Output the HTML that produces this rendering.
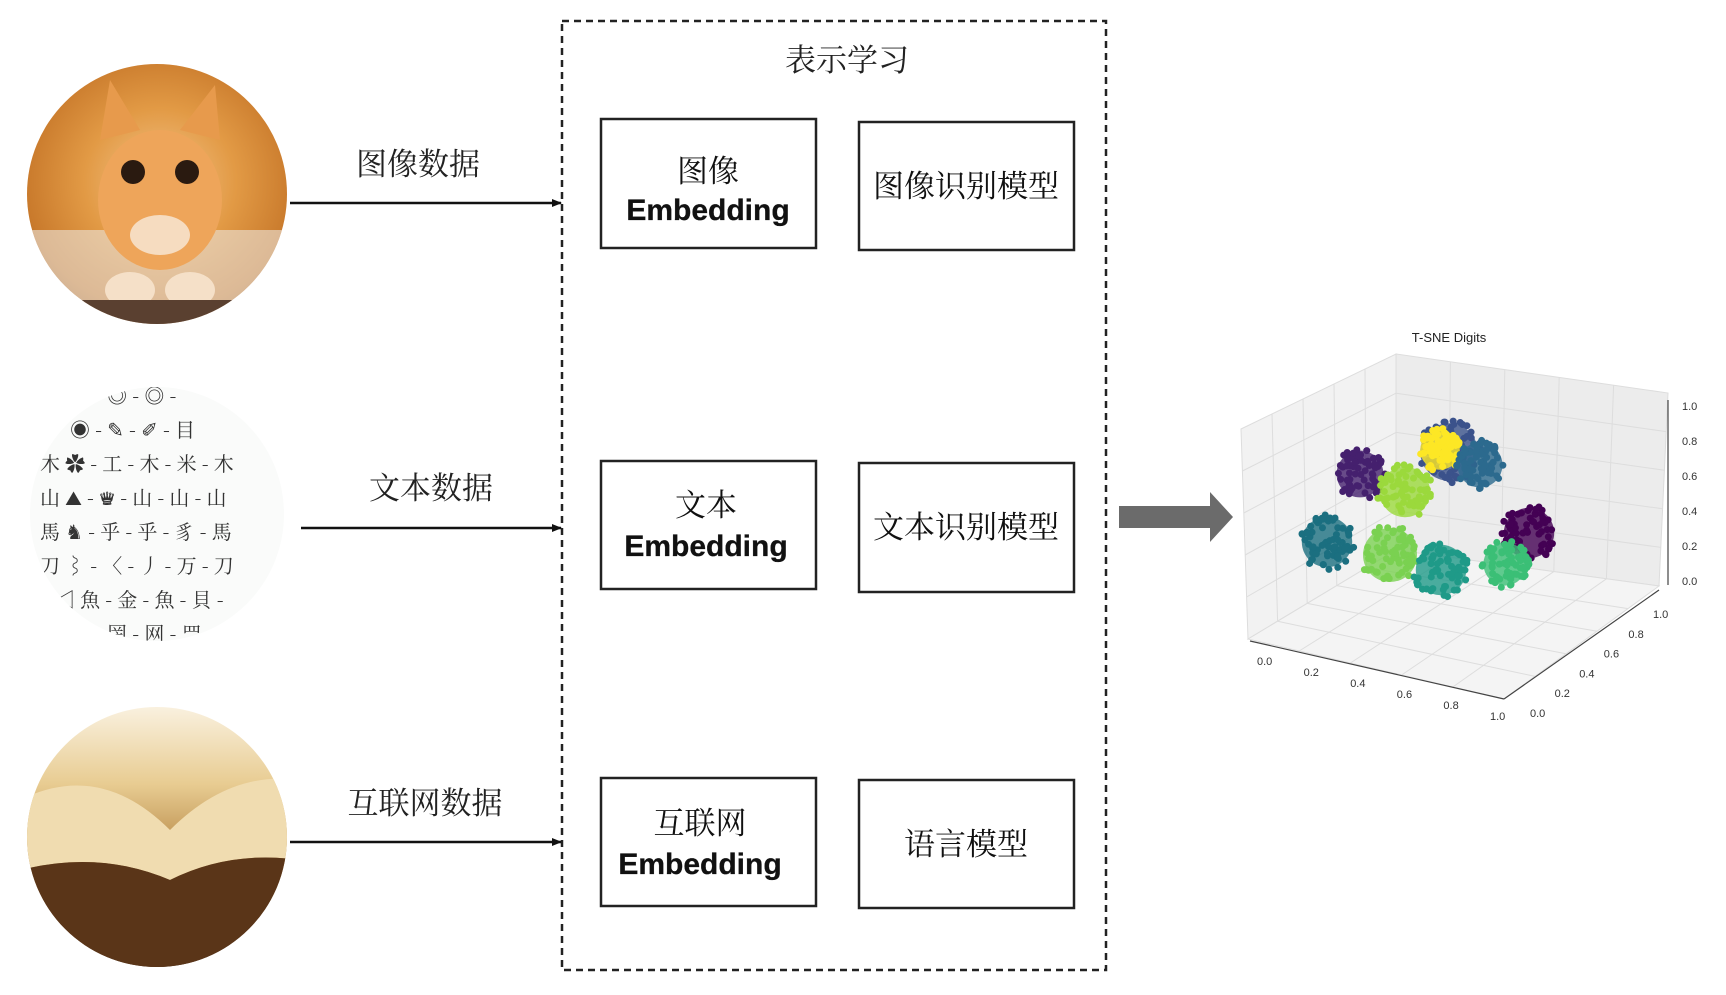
<!DOCTYPE html>
<html><head><meta charset="utf-8"><style>
html,body{margin:0;padding:0;background:#fff;}
svg text{font-family:"Liberation Sans","Noto Sans CJK SC",sans-serif;}
.cn{font-family:"Noto Serif CJK SC","Noto Sans CJK SC",serif !important;}
</style></head><body>
<svg id="s" width="1726" height="990" viewBox="0 0 1726 990" xmlns="http://www.w3.org/2000/svg">
<defs>
<radialGradient id="cat" cx="0.5" cy="0.45" r="0.6">
<stop offset="0" stop-color="#f3c48a"/><stop offset="0.45" stop-color="#e29a45"/><stop offset="0.8" stop-color="#c97a2c"/><stop offset="1" stop-color="#9a5a20"/></radialGradient>
<linearGradient id="book" x1="0" y1="0" x2="0" y2="1">
<stop offset="0" stop-color="#fbf4e6"/><stop offset="0.3" stop-color="#e8cc92"/><stop offset="0.55" stop-color="#b88a48"/><stop offset="0.75" stop-color="#6e4420"/><stop offset="1" stop-color="#3a2210"/></linearGradient>
<clipPath id="c1"><circle cx="157" cy="194" r="130"/></clipPath>
<clipPath id="c2"><circle cx="157" cy="514" r="127"/></clipPath>
<clipPath id="c3"><circle cx="157" cy="837" r="130"/></clipPath>
<marker id="ah" markerWidth="10" markerHeight="8" refX="9" refY="4" orient="auto" markerUnits="userSpaceOnUse"><path d="M0,0 L10,4 L0,8 z" fill="#111"/></marker>
</defs>

<!-- cat -->
<g clip-path="url(#c1)">
<rect x="20" y="60" width="280" height="270" fill="url(#cat)"/>
<rect x="20" y="230" width="280" height="100" fill="#e9e4de" opacity="0.6"/>
<ellipse cx="160" cy="200" rx="62" ry="70" fill="#eea55a"/>
<polygon points="100,140 110,80 140,130" fill="#e79a4c"/>
<polygon points="220,140 215,85 180,130" fill="#e79a4c"/>
<circle cx="133" cy="172" r="12" fill="#2a1a10"/><circle cx="187" cy="172" r="12" fill="#2a1a10"/>
<ellipse cx="160" cy="235" rx="30" ry="20" fill="#f6dcc0"/>
<ellipse cx="130" cy="290" rx="25" ry="18" fill="#f5e0c8"/><ellipse cx="190" cy="290" rx="25" ry="18" fill="#f5e0c8"/>
<rect x="60" y="300" width="200" height="40" fill="#5a4030"/>
</g>

<!-- chars -->
<g clip-path="url(#c2)">
<rect x="20" y="380" width="280" height="280" fill="#fafbfa"/>
<g font-size="20" fill="#333" class="cn">
<text x="70" y="403" class="cn">〰 - ◎ - ◎ -</text>
<text x="70" y="437" class="cn">◉ - ✎ - ✐ - 目</text>
<text x="40" y="471" class="cn">木 ✿ - 工 - 木 - 米 - 木</text>
<text x="40" y="505" class="cn">山 ⛰ - ♛ - 山 - 山 - 山</text>
<text x="40" y="539" class="cn">馬 ♞ - 乎 - 乎 - 豸 - 馬</text>
<text x="40" y="573" class="cn">刀 ⌇ - 〈 - 丿 - 万 - 刀</text>
<text x="55" y="607" class="cn">◁ 魚 - 金 - 魚 - 貝 -</text>
<text x="70" y="641" class="cn">囲 - 罔 - 网 - 罒</text>
</g>
</g>

<!-- book -->
<g clip-path="url(#c3)">
<rect x="20" y="700" width="280" height="280" fill="url(#book)"/>
<path d="M20,800 Q100,760 170,830 Q230,770 300,780 L300,860 Q230,850 170,880 Q100,850 20,870 z" fill="#f0dcb0"/>
<path d="M20,870 Q100,850 170,880 Q230,850 300,860 L300,980 L20,980 z" fill="#5a3518"/>
</g>

<!-- labels & arrows -->
<g font-size="31" fill="#222" text-anchor="middle">
<text x="418" y="175" class="cn">图像数据</text>
<text x="431" y="499" class="cn">文本数据</text>
<text x="425" y="814" class="cn">互联网数据</text>
</g>
<g stroke="#111" stroke-width="2.5">
<line x1="290" y1="203" x2="561" y2="203" marker-end="url(#ah)"/>
<line x1="301" y1="528" x2="561" y2="528" marker-end="url(#ah)"/>
<line x1="290" y1="842" x2="561" y2="842" marker-end="url(#ah)"/>
</g>

<!-- dashed box -->
<rect x="562" y="21" width="544" height="949" fill="none" stroke="#222" stroke-width="2.5" stroke-dasharray="7,5"/>
<text x="847" y="71" font-size="31" text-anchor="middle" class="cn" fill="#222">表示学习</text>

<g fill="none" stroke="#222" stroke-width="2.5">
<rect x="601" y="119" width="215" height="129"/>
<rect x="859" y="122" width="215" height="128"/>
<rect x="601" y="461" width="215" height="128"/>
<rect x="859" y="463" width="215" height="129"/>
<rect x="601" y="778" width="215" height="128"/>
<rect x="859" y="780" width="215" height="128"/>
</g>
<g fill="#111" text-anchor="middle">
<text x="708" y="182" font-size="31" class="cn">图像</text>
<text x="708" y="220" font-size="30" font-weight="bold" stroke="#111" stroke-width="0.3">Embedding</text>
<text x="966" y="197" font-size="31" class="cn">图像识别模型</text>
<text x="706" y="516" font-size="31" class="cn">文本</text>
<text x="706" y="556" font-size="30" font-weight="bold" stroke="#111" stroke-width="0.3">Embedding</text>
<text x="966" y="538" font-size="31" class="cn">文本识别模型</text>
<text x="700" y="834" font-size="31" class="cn">互联网</text>
<text x="700" y="874" font-size="30" font-weight="bold" stroke="#111" stroke-width="0.3">Embedding</text>
<text x="966" y="855" font-size="31" class="cn">语言模型</text>
</g>

<!-- gray arrow -->
<polygon points="1119,506 1210,506 1210,492 1233,517 1210,542 1210,528 1119,528" fill="#6b6b6b"/>

<!-- plot -->
<text x="1449" y="342" font-size="13" text-anchor="middle" fill="#222">T-SNE Digits</text>
<g stroke="#ddd" stroke-width="1" fill="none">
<polygon points="1241,429 1396,354 1396,550 1248,639" fill="#f2f2f2"/>
<polygon points="1396,354 1668,393 1659,586 1396,550" fill="#ececec"/>
<polygon points="1248,639 1396,550 1659,586 1504,699" fill="#f4f4f4"/>
<g id="grid"></g>
</g>
<g stroke="#444" stroke-width="1.2">
<line x1="1250" y1="641" x2="1504" y2="699"/>
<line x1="1504" y1="699" x2="1659" y2="590"/>
<line x1="1668" y1="400" x2="1668" y2="585"/>
</g>
<g font-size="11" fill="#333" id="ticks"></g>
<g id="pts"></g>
</svg>
<script>
(function(){
var ns="http://www.w3.org/2000/svg";
function el(t,a,p){var e=document.createElementNS(ns,t);for(var k in a)e.setAttribute(k,a[k]);(p||document.getElementById('s')).appendChild(e);return e;}
var g=document.getElementById('grid');
function lerp(a,b,t){return [a[0]+(b[0]-a[0])*t,a[1]+(b[1]-a[1])*t];}
var A=[1241,429],B=[1396,354],C=[1668,393],D=[1248,639],E=[1396,550],F=[1659,586],G=[1504,699];
for(var i=1;i<5;i++){var t=i/5;
 var p=lerp(A,B,t),q=lerp(D,E,t);el('line',{x1:p[0],y1:p[1],x2:q[0],y2:q[1]},g);
 p=lerp(B,C,t);q=lerp(E,F,t);el('line',{x1:p[0],y1:p[1],x2:q[0],y2:q[1]},g);
 p=lerp(A,D,t);q=lerp(B,E,t);el('line',{x1:p[0],y1:p[1],x2:q[0],y2:q[1]},g);
 p=lerp(B,E,t);q=lerp(C,F,t);el('line',{x1:p[0],y1:p[1],x2:q[0],y2:q[1]},g);
 p=lerp(D,G,t);q=lerp(E,F,t);el('line',{x1:p[0],y1:p[1],x2:q[0],y2:q[1]},g);
 p=lerp(D,E,t);q=lerp(G,F,t);el('line',{x1:p[0],y1:p[1],x2:q[0],y2:q[1]},g);
}
var tk=document.getElementById('ticks');
var lab=['0.0','0.2','0.4','0.6','0.8','1.0'];
for(var i=0;i<6;i++){
 var t=i/5;
 var p=lerp([1257,665],[1490,720],t);var e=el('text',{x:p[0],y:p[1]},tk);e.textContent=lab[i];
 p=lerp([1530,717],[1653,618],t);e=el('text',{x:p[0],y:p[1]},tk);e.textContent=lab[i];
 e=el('text',{x:1682,y:585-t*175},tk);e.textContent=lab[i];
}
var seed=7;function r(){seed=(seed*16807)%2147483647;return seed/2147483647;}
var cl=[[1360,474,26,'#45206e'],[1449,452,32,'#3b528b'],[1440,450,22,'#fde725'],[1480,465,25,'#2c6a8e'],
[1405,492,28,'#9bd93c'],[1327,542,28,'#1b6f80'],[1390,555,30,'#7ad151'],[1441,570,28,'#1f9a88'],
[1529,533,28,'#440154'],[1505,564,24,'#3bbf76']];
var pg=document.getElementById('pts');
cl.forEach(function(c){
 el('ellipse',{cx:c[0],cy:c[1],rx:c[2]*0.9,ry:c[2]*0.9,fill:c[3],opacity:0.8},pg);
 for(var k=0;k<70;k++){var a=r()*6.283,d=Math.sqrt(r())*c[2];
 el('circle',{cx:c[0]+Math.cos(a)*d,cy:c[1]+Math.sin(a)*d,r:3.5,fill:c[3]},pg);}
});
})();
</script>
</body></html>
